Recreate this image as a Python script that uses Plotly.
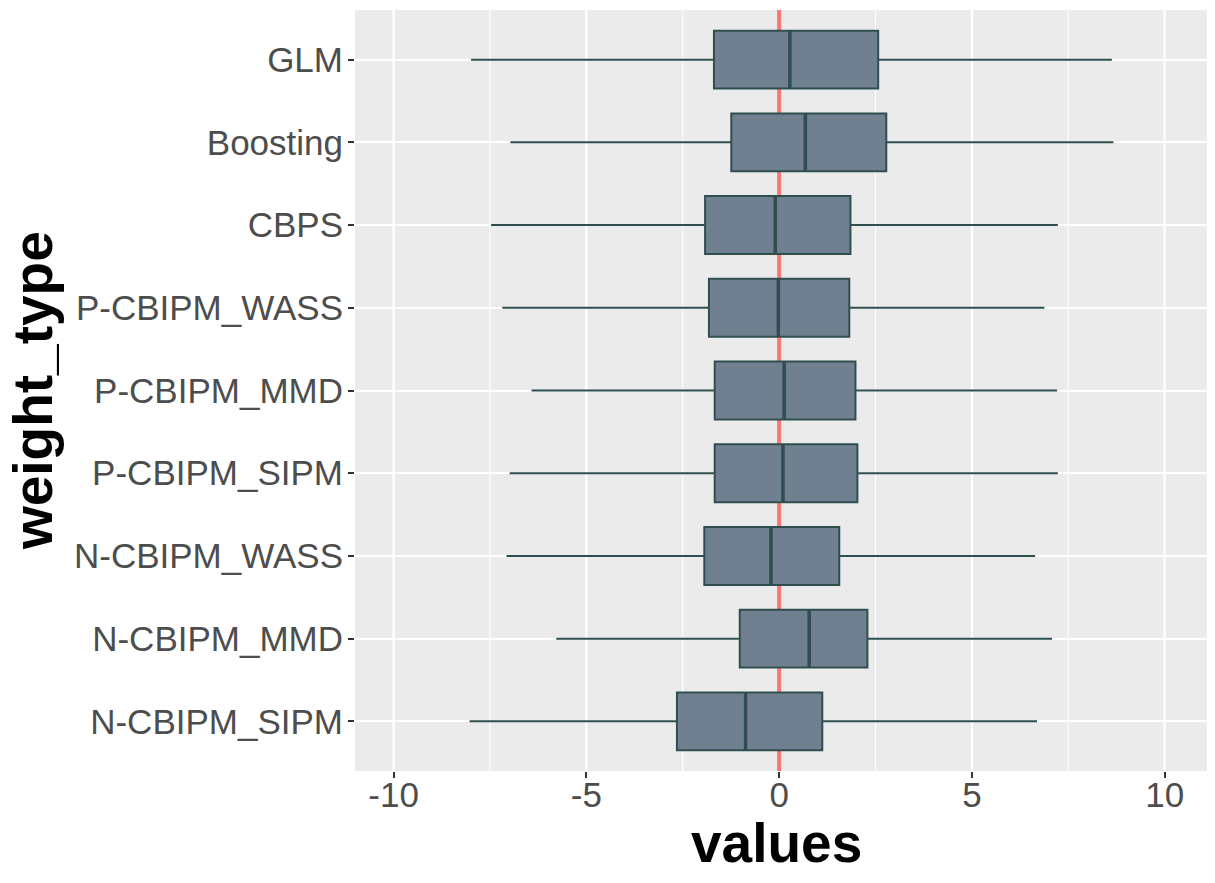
import plotly.graph_objects as go

# categories listed bottom -> top
weight_types = ["N-CBIPM_SIPM", "N-CBIPM_MMD", "N-CBIPM_WASS", "P-CBIPM_SIPM",
                "P-CBIPM_MMD", "P-CBIPM_WASS", "CBPS", "Boosting", "GLM"]
lower = [-8.03, -5.78, -7.07, -6.99, -6.42, -7.18, -7.47, -6.97, -7.99]
q1 = [-2.65, -1.02, -1.94, -1.67, -1.67, -1.82, -1.92, -1.24, -1.69]
median = [-0.87, 0.78, -0.21, 0.10, 0.13, -0.02, -0.10, 0.68, 0.28]
q3 = [1.12, 2.29, 1.56, 2.03, 1.98, 1.82, 1.85, 2.78, 2.57]
upper = [6.69, 7.08, 6.64, 7.23, 7.21, 6.88, 7.23, 8.67, 8.63]

x_ticks = [-10, -5, 0, 5, 10]
x_ticktext = ["-10", "-5", "0", "5", "10"]
x_minor = [-7.5, -2.5, 2.5, 7.5]

pos = list(range(len(weight_types)))
half = 0.35
yr = [-0.6, 8.6]

fig = go.Figure()

fig.add_trace(go.Box(
    orientation="h", y=pos,
    q1=q1, median=median, q3=q3, lowerfence=lower, upperfence=upper,
    fillcolor="#708090", line=dict(color="#2F4F4F", width=2),
    whiskerwidth=0, width=2 * half, boxpoints=False,
    hoverinfo="skip", showlegend=False,
))

# thicker median bars like ggplot
mx, my = [], []
for p, m in zip(pos, median):
    mx += [m, m, None]
    my += [p - half, p + half, None]
fig.add_trace(go.Scatter(x=mx, y=my, mode="lines",
                         line=dict(color="#2F4F4F", width=3.5),
                         hoverinfo="skip", showlegend=False))

# vertical grid drawn as shapes so the red line can sit on top of it but under the boxes
for v in x_minor:
    fig.add_shape(type="line", x0=v, x1=v, y0=0, y1=1, yref="paper",
                  line=dict(color="white", width=1.1), layer="below")
for v in x_ticks:
    fig.add_shape(type="line", x0=v, x1=v, y0=0, y1=1, yref="paper",
                  line=dict(color="white", width=2.2), layer="below")
fig.add_shape(type="line", x0=0, x1=0, y0=0, y1=1, yref="paper",
              line=dict(color="#F87878", width=4), layer="below")

tickfont = dict(family="Liberation Sans, Arial", size=35, color="#4D4D4D")
titlefont = dict(family="Liberation Sans, Arial", size=55, color="black", weight="bold")

fig.update_layout(
    width=1215, height=883,
    margin=dict(l=347, r=14, t=2, b=120, autoexpand=False),
    paper_bgcolor="white", plot_bgcolor="#EBEBEB",
    xaxis=dict(
        range=[-11.0, 11.15], tickvals=x_ticks, ticktext=x_ticktext,
        showgrid=False, zeroline=False,
        ticks="outside", ticklen=6, tickwidth=2, tickcolor="#333333",
        tickfont=tickfont, ticklabelstandoff=-13, automargin=False,
    ),
    yaxis=dict(
        range=yr, tickvals=pos, ticktext=weight_types,
        showgrid=True, gridcolor="white", gridwidth=2, zeroline=False,
        ticks="outside", ticklen=6, tickwidth=2, tickcolor="#333333",
        tickfont=tickfont, ticklabelstandoff=-2, automargin=False,
    ),
    annotations=[
        dict(text="values", font=titlefont, showarrow=False,
             xref="paper", yref="paper", x=0.494, y=-0.0945,
             xanchor="center", yanchor="middle"),
        dict(text="weight_type", font=titlefont, showarrow=False, textangle=-90,
             xref="paper", yref="paper", x=-0.377, y=0.4993,
             xanchor="center", yanchor="middle"),
    ],
)

fig.write_html("out.html")
